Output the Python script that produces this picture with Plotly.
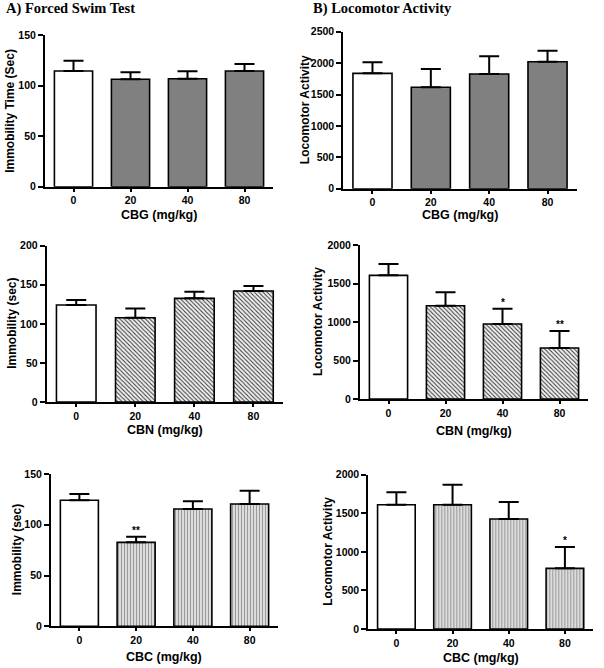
import plotly.graph_objects as go

W, H = 604, 668

doses = ["0", "20", "40", "80"]

# Forced swim test (immobility, sec)
fst_cbg_mean = [114.4, 106.2, 106.8, 114.4]
fst_cbg_err = [124.6, 113.1, 114.1, 121.3]
fst_cbn_mean = [124.1, 107.9, 132.6, 142.0]
fst_cbn_err = [130.5, 119.8, 141.2, 148.4]
fst_cbc_mean = [124.1, 82.7, 115.5, 120.4]
fst_cbc_err = [130.3, 88.3, 123.1, 133.6]

# Locomotor activity
loc_cbg_mean = [1837, 1615, 1826, 2022]
loc_cbg_err = [2013, 1906, 2108, 2197]
loc_cbn_mean = [1606, 1212, 974, 662]
loc_cbn_err = [1753, 1385, 1173, 883]
loc_cbc_mean = [1611, 1611, 1425, 786]
loc_cbc_err = [1771, 1870, 1646, 1063]

fst_cbc_stars = ["", "**", "", ""]
loc_cbn_stars = ["", "", "*", "**"]
loc_cbc_stars = ["", "", "", "*"]

panels = [
    dict(mean=fst_cbg_mean, err=fst_cbg_err, drug="CBG", ymax=150, dtick=50,
         ytitle="Immobility Time (Sec)", box=(45, 273, 35, 186.7), style="solid",
         stars=None, ytx=10, xty=215),
    dict(mean=loc_cbg_mean, err=loc_cbg_err, drug="CBG", ymax=2500, dtick=500,
         ytitle="Locomotor Activity", box=(343.3, 576.7, 31.7, 188.7), style="solid",
         stars=None, ytx=305, xty=215),
    dict(mean=fst_cbn_mean, err=fst_cbn_err, drug="CBN", ymax=200, dtick=50,
         ytitle="Immobility (sec)", box=(46.7, 283, 245.7, 402), style="hatch",
         stars=None, ytx=12, xty=430),
    dict(mean=loc_cbn_mean, err=loc_cbn_err, drug="CBN", ymax=2000, dtick=500,
         ytitle="Locomotor Activity", box=(360, 588, 245, 399), style="hatch",
         stars=loc_cbn_stars, ytx=318, xty=431),
    dict(mean=fst_cbc_mean, err=fst_cbc_err, drug="CBC", ymax=150, dtick=50,
         ytitle="Immobility (sec)", box=(51, 278, 474, 626.3), style="vstripe",
         stars=fst_cbc_stars, ytx=17, xty=657),
    dict(mean=loc_cbc_mean, err=loc_cbc_err, drug="CBC", ymax=2000, dtick=500,
         ytitle="Locomotor Activity", box=(368.3, 593, 474.7, 629), style="vstripe",
         stars=loc_cbc_stars, ytx=328, xty=658),
]

fig = go.Figure()
layout = dict(
    template="none",
    width=W, height=H,
    margin=dict(l=0, r=0, t=0, b=0, pad=0),
    paper_bgcolor="white", plot_bgcolor="white",
    showlegend=False,
    barmode="overlay",
    font=dict(family="Arial, Liberation Sans, sans-serif", color="black"),
)
annotations = []

sans = "Arial, Liberation Sans, sans-serif"

for i, p in enumerate(panels):
    n = i + 1
    xa = "x" if n == 1 else f"x{n}"
    ya = "y" if n == 1 else f"y{n}"
    l, r, t, b = p["box"]
    up = [e - m for e, m in zip(p["err"], p["mean"])]

    # control bar (white)
    fig.add_trace(go.Bar(
        x=doses[:1], y=p["mean"][:1], xaxis=xa, yaxis=ya, width=0.67,
        marker=dict(color="white", line=dict(color="black", width=1.6)),
        error_y=dict(type="data", symmetric=False, array=up[:1], arrayminus=[0],
                     color="black", thickness=2, width=10),
        hoverinfo="skip",
    ))
    if p["style"] == "solid":
        marker = dict(color="#808080", line=dict(color="black", width=1.6))
    elif p["style"] == "hatch":
        marker = dict(color="white", line=dict(color="black", width=1.6),
                      pattern=dict(shape="\\", fgcolor="#333333", bgcolor="#f0f0f0",
                                   size=3, solidity=0.32, fillmode="replace"))
    else:
        marker = dict(color="white", line=dict(color="black", width=1.6),
                      pattern=dict(shape="|", fgcolor="#9a9a9a", bgcolor="#f2f2f2",
                                   size=3, solidity=0.5, fillmode="replace"))
    fig.add_trace(go.Bar(
        x=doses[1:], y=p["mean"][1:], xaxis=xa, yaxis=ya, width=0.67,
        marker=marker,
        error_y=dict(type="data", symmetric=False, array=up[1:], arrayminus=[0, 0, 0],
                     color="black", thickness=2, width=10),
        hoverinfo="skip",
    ))

    layout["xaxis" if n == 1 else f"xaxis{n}"] = dict(
        domain=[l / W, r / W], anchor=ya, type="category", automargin=False,
        range=[-0.5, 3.5], showline=True, linecolor="black", linewidth=2,
        ticks="outside", ticklen=3, tickwidth=1.5, tickcolor="black",
        showgrid=False, zeroline=False,
        tickfont=dict(family=sans, size=10.5, weight="bold", color="black"),
    )
    layout["yaxis" if n == 1 else f"yaxis{n}"] = dict(
        domain=[1 - b / H, 1 - t / H], anchor=xa, automargin=False,
        range=[0, p["ymax"]], dtick=p["dtick"], tick0=0,
        showline=True, linecolor="black", linewidth=2,
        ticks="outside", ticklen=5, tickwidth=1.5, tickcolor="black",
        showgrid=False, zeroline=False,
        tickfont=dict(family=sans, size=10.5, weight="bold", color="black"),
    )
    # axis titles
    annotations.append(dict(
        text=p["ytitle"], xref="paper", yref="paper",
        x=p["ytx"] / W, y=1 - ((t + b) / 2) / H, textangle=-90,
        showarrow=False, xanchor="center", yanchor="middle",
        font=dict(family=sans, size=12, weight="bold", color="black"),
    ))
    annotations.append(dict(
        text=f"{p['drug']} (mg/kg)", xref="paper", yref="paper",
        x=((l + r) / 2) / W, y=1 - p["xty"] / H,
        showarrow=False, xanchor="center", yanchor="middle",
        font=dict(family=sans, size=12.5, weight="bold", color="black"),
    ))
    if p["stars"]:
        for k, (e, s) in enumerate(zip(p["err"], p["stars"])):
            if s:
                annotations.append(dict(
                    text=s, xref=xa, yref=ya, x=k, y=e,
                    showarrow=False, xanchor="center", yanchor="bottom", yshift=-1,
                    font=dict(family=sans, size=10, weight="bold", color="black"),
                ))

annotations.append(dict(
    text="A) Forced Swim Test", xref="paper", yref="paper", x=4 / W, y=1 - 9 / H,
    showarrow=False, xanchor="left", yanchor="middle",
    font=dict(family="Times New Roman, Liberation Serif, serif", size=14.5, weight="bold", color="black"),
))
annotations.append(dict(
    text="B) Locomotor Activity", xref="paper", yref="paper", x=311 / W, y=1 - 9 / H,
    showarrow=False, xanchor="left", yanchor="middle",
    font=dict(family="Times New Roman, Liberation Serif, serif", size=14.5, weight="bold", color="black"),
))

layout["annotations"] = annotations
fig.update_layout(**layout)
fig.write_html(
    "out.html",
    config={"displayModeBar": False},
    post_script="document.body.style.margin='0';document.body.style.padding='0';",
)
